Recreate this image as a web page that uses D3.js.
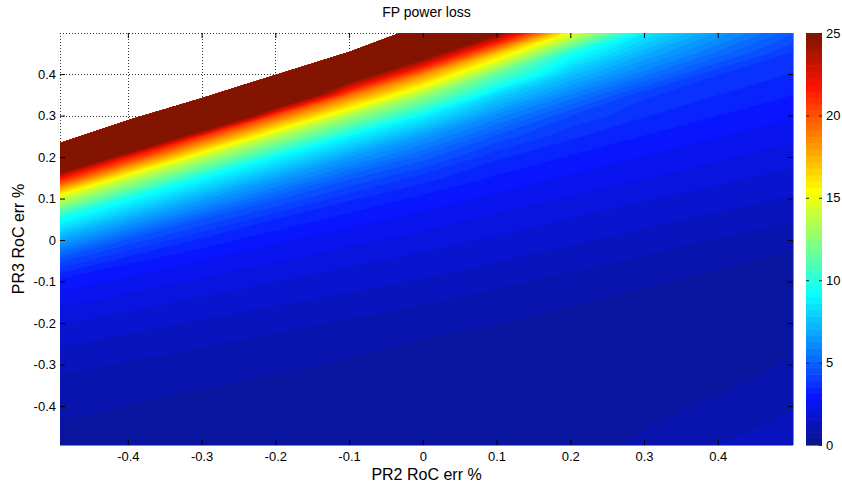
<!DOCTYPE html>
<html><head><meta charset="utf-8">
<script src="https://cdn.jsdelivr.net/npm/d3@7"></script>
<style>
body{margin:0;background:#fff;}
text{font-family:Arial,"Liberation Sans",Helvetica,sans-serif;fill:#000;}
</style>
</head><body>
<svg id="chart" width="842" height="486"></svg>
<script>
// ---------------- data ----------------
const title = "FP power loss";
const xLabel = "PR2 RoC err %";
const yLabel = "PR3 RoC err %";

// grid nodes of the loss map
const xNodes = [-0.5,-0.4,-0.3,-0.2,-0.1,0,0.1,0.2,0.3,0.4,0.5];
const yNodes = [-0.5,-0.45,-0.4,-0.35,-0.3,-0.25,-0.2,-0.15,-0.1,-0.05,0,
                0.05,0.1,0.15,0.2,0.25,0.3,0.35,0.4,0.45,0.5];

// lossGrid[j][i] : loss at (xNodes[i], yNodes[j])  (values > 25 saturate)
const lossGrid = [
  [0.64,0.57,0.54,0.50,0.47,0.45,0.47,0.63,0.90,1.20,1.40],
  [0.75,0.67,0.58,0.54,0.50,0.49,0.45,0.56,0.75,1.03,1.27],
  [0.86,0.78,0.69,0.60,0.55,0.53,0.48,0.50,0.60,0.87,1.14],
  [1.05,0.89,0.80,0.72,0.62,0.57,0.52,0.46,0.53,0.70,0.99],
  [1.30,1.13,0.94,0.83,0.75,0.65,0.57,0.51,0.46,0.57,0.83],
  [1.63,1.39,1.22,1.03,0.87,0.75,0.65,0.57,0.50,0.50,0.67],
  [2.00,1.74,1.51,1.31,1.11,0.90,0.79,0.66,0.56,0.48,0.54],
  [2.50,2.13,1.85,1.62,1.41,1.21,0.96,0.81,0.67,0.56,0.45],
  [3.00,2.62,2.26,1.95,1.72,1.52,1.28,1.03,0.83,0.68,0.54],
  [4.50,3.22,2.72,2.38,2.05,1.82,1.58,1.34,1.09,0.86,0.69],
  [7.00,4.60,3.40,2.82,2.48,2.17,1.88,1.64,1.40,1.15,0.90],
  [9.60,6.90,4.70,3.50,2.91,2.58,2.24,1.94,1.70,1.46,1.21],
  [14.6,9.40,6.80,4.80,3.60,3.00,2.63,2.30,2.00,1.76,1.52],
  [22.7,14.2,9.20,6.70,4.80,3.70,3.05,2.68,2.36,2.07,1.82],
  [35.0,21.8,13.9,9.10,6.60,4.90,3.60,3.08,2.72,2.42,2.13],
  [50,35.0,20.9,13.6,9.00,6.50,4.60,3.60,3.11,2.76,2.47],
  [50,50,35.0,20.1,13.3,8.90,6.10,4.30,3.55,3.13,2.80],
  [50,50,50,32.0,19.4,13.0,8.10,5.80,4.00,3.52,3.14],
  [50,50,50,50,28.0,18.6,11.5,7.60,5.60,3.92,3.50],
  [50,50,50,50,40.0,27.0,17.0,9.60,7.10,5.30,3.86],
  [50,50,50,50,50,38.0,25.5,15.2,8.70,6.60,4.80]
];

// edge of the unstable (blank) region, top-left
const edgeX = [-0.492,-0.4,-0.3,-0.2,-0.1,-0.031];
const edgeY = [0.234,0.289,0.342,0.398,0.453,0.499];

const xTicks = [-0.4,-0.3,-0.2,-0.1,0,0.1,0.2,0.3,0.4];
const yTicks = [-0.4,-0.3,-0.2,-0.1,0,0.1,0.2,0.3,0.4];
const cTicks = [0,5,10,15,20,25];
const cRange = [0,25];
const nColors = 64;

// ---------------- drawing ----------------
const svg = d3.select("#chart");
const P = {l:60, r:793, t:33, b:445};
const x = d3.scaleLinear().domain([-0.492,0.502]).range([P.l,P.r]);
const y = d3.scaleLinear().domain([-0.494,0.499]).range([P.b,P.t]);

function jet(k){ // MATLAB jet(64), k = 1..64, with the slight tint of the exported picture
  const r = k<25?0 : k<=40?(k-24)/16 : k<=56?1 : (72-k)/16;
  const g = k<9?0 : k<=24?(k-8)/16 : k<=40?1 : k<=55?(56-k)/16 : 0;
  const b = k<=8?(k+8)/16 : k<=24?1 : k<=39?(40-k)/16 : 0;
  return d3.rgb((r*0.96+0.035)*255,(g*0.92+0.08)*255,b*255).formatHex();
}
const step = (cRange[1]-cRange[0])/nColors;
const thresholds = d3.range(nColors).map(k => cRange[0]+k*step);

// grid lines (below the map)
const grid = svg.append("g").attr("stroke","#333").attr("stroke-width",1)
  .attr("stroke-dasharray","1,2").attr("shape-rendering","crispEdges");
xTicks.forEach(v => grid.append("line").attr("x1",Math.round(x(v))+0.5).attr("x2",Math.round(x(v))+0.5)
  .attr("y1",P.t).attr("y2",P.b));
yTicks.forEach(v => grid.append("line").attr("y1",Math.round(y(v))+0.5).attr("y2",Math.round(y(v))+0.5)
  .attr("x1",P.l).attr("x2",P.r));
grid.append("line").attr("x1",P.l).attr("x2",P.r).attr("y1",P.t+0.5).attr("y2",P.t+0.5);
grid.append("line").attr("x1",P.l+0.5).attr("x2",P.l+0.5).attr("y1",P.t).attr("y2",P.b);

// clip: stable part of the plot box
const stablePts = [[x.domain()[0],y.domain()[0]],[x.domain()[1],y.domain()[0]],[x.domain()[1],y.domain()[1]]];
for (let i=edgeX.length-1;i>=0;i--) stablePts.push([edgeX[i],edgeY[i]]);
const defs = svg.append("defs");
defs.append("clipPath").attr("id","stable").append("path")
  .attr("d", d3.line().x(d=>x(d[0])).y(d=>y(d[1]))(stablePts)+"Z");

// loss map via d3.contours
const nx = xNodes.length, ny = yNodes.length;
const dxn = xNodes[1]-xNodes[0], dyn = yNodes[1]-yNodes[0];
const contours = d3.contours().size([nx,ny]).thresholds(thresholds)(lossGrid.flat());
const proj = d3.geoTransform({point(px,py){
  this.stream.point(x(xNodes[0]+(px-0.5)*dxn), y(yNodes[0]+(py-0.5)*dyn));
}});
const path = d3.geoPath(proj);
svg.append("g").attr("clip-path","url(#stable)")
  .selectAll("path").data(contours).join("path")
  .attr("d", path)
  .attr("fill", (d,i) => jet(i+1))
  .attr("stroke", (d,i) => jet(i+1)).attr("stroke-width",0.4);

// box
const box = svg.append("g").attr("stroke","#8c8c8c").attr("stroke-width",1).attr("fill","none")
  .attr("shape-rendering","crispEdges");
box.append("line").attr("x1",P.l).attr("x2",P.r).attr("y1",P.b+0.5).attr("y2",P.b+0.5);
box.append("line").attr("x1",P.r+0.5).attr("x2",P.r+0.5).attr("y1",P.t).attr("y2",P.b);

// axes
const fmt = v => v===0 ? "0" : v.toFixed(1);
const xa = svg.append("g").attr("transform",`translate(0,${P.b})`)
  .call(d3.axisBottom(x).tickValues(xTicks).tickSize(-5).tickPadding(7).tickFormat(fmt));
const xt = svg.append("g").attr("transform",`translate(0,${P.t})`)
  .call(d3.axisTop(x).tickValues(xTicks).tickSize(-5).tickFormat(""));
const ya = svg.append("g").attr("transform",`translate(${P.l},0)`)
  .call(d3.axisLeft(y).tickValues(yTicks).tickSize(-5).tickPadding(4).tickFormat(fmt));
const yr = svg.append("g").attr("transform",`translate(${P.r},0)`)
  .call(d3.axisRight(y).tickValues(yTicks).tickSize(-5).tickFormat(""));
[xa,xt,ya,yr].forEach(g => {
  g.select(".domain").remove();
  g.selectAll(".tick line").attr("stroke","#000");
  g.selectAll("text").attr("font-size","13px").attr("fill","#000")
    .style("font-family","Arial,'Liberation Sans',sans-serif");
});

// colorbar
const cb = {l:806, r:822};
const cy = d3.scaleLinear().domain(cRange).range([P.b,P.t]);
svg.append("g").selectAll("rect").data(thresholds).join("rect")
  .attr("x",cb.l).attr("width",cb.r-cb.l)
  .attr("y",d=>cy(d+step)).attr("height",d=>cy(d)-cy(d+step)+0.6)
  .attr("fill",(d,i)=>jet(i+1));
const cba = svg.append("g").attr("transform",`translate(${cb.r},0)`)
  .call(d3.axisRight(cy).tickValues(cTicks).tickSize(-3).tickPadding(4).tickFormat(d3.format("d")));
cba.select(".domain").remove();
cba.selectAll(".tick line").attr("stroke","#222");
cba.selectAll("text").attr("font-size","13px").attr("fill","#000");
const cbl = svg.append("g").attr("transform",`translate(${cb.l},0)`)
  .call(d3.axisLeft(cy).tickValues(cTicks.slice(1,-1)).tickSize(-3).tickFormat(""));
cbl.select(".domain").remove();
cbl.selectAll(".tick line").attr("stroke","#222");

// titles
svg.append("text").attr("x",(P.l+P.r)/2).attr("y",17).attr("text-anchor","middle")
  .attr("font-size","14px").text(title);
svg.append("text").attr("x",(P.l+P.r)/2).attr("y",480).attr("text-anchor","middle")
  .attr("font-size","16px").text(xLabel);
svg.append("text").attr("transform",`translate(24,${(P.t+P.b)/2}) rotate(-90)`)
  .attr("text-anchor","middle").attr("font-size","16px").text(yLabel);
</script>
</body></html>
